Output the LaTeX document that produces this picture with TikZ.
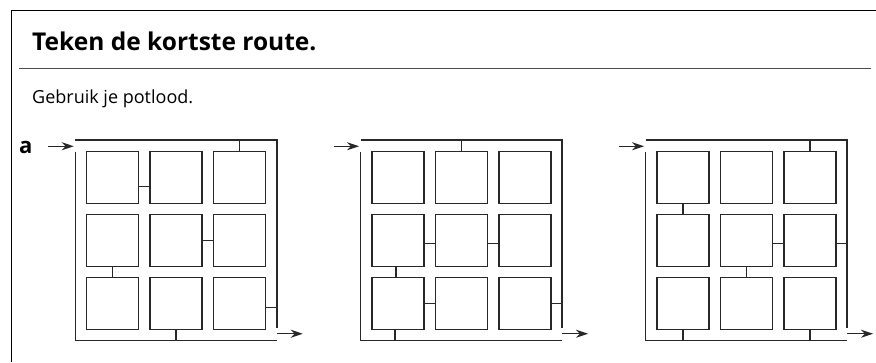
\documentclass[tikz,border=0pt]{standalone}
\usepackage{fontspec}
\setmainfont{Open Sans}
\usetikzlibrary{arrows.meta,calc}
\definecolor{inkgray}{RGB}{40,40,40}

\begin{document}
\begin{tikzpicture}[x=1pt, y=1pt,
    cell/.style={draw=inkgray, line width=1.5pt, minimum size=52pt, inner sep=0pt},
    wall/.style={draw=inkgray, line width=1.5pt},
    link/.style={draw=inkgray, line width=1.5pt},
    arr/.style={draw=inkgray, line width=1.4pt, -{Stealth[length=12pt, width=8pt]}}]
    \useasboundingbox (0,0) rectangle (876,-362);

    % Frame and header
    \draw[line width=1.2pt] (11.5,-362) -- (11.5,-10.5) -- (876,-10.5);
    \node[anchor=base west, inner sep=0pt, font=\fontsize{24.5}{29}\selectfont\bfseries] (title) at (32,-50) {Teken de kortste route.};
    \draw[black!70, line width=1.8pt] (19,-68.5) -- (871,-68.5);
    \node[anchor=base west, inner sep=0pt, font=\fontsize{18}{22}\selectfont] (hint) at (32,-103) {Gebruik je potlood.};
    \node[anchor=base west, inner sep=0pt, font=\fontsize{22}{26}\selectfont\bfseries] (a) at (19,-153) {a};

    % Squares of the three mazes
    \foreach \p/\x in {1/112.5, 2/397.8, 3/682.8}
      \foreach \r in {1,2,3}
        \foreach \c in {1,2,3}
          \node[cell] (p\p-\r\c) at ({\x+63.5*(\c-1)}, {-177.5-63*(\r-1)}) {};

    % Outer walls, entries and exits
    \foreach \p in {1,2,3} {
      \coordinate (p\p-tl) at ($(p\p-11.north west)+(-10.5,11)$);
      \coordinate (p\p-tr) at ($(p\p-13.north east)+(10.5,11)$);
      \coordinate (p\p-bl) at ($(p\p-31.south west)+(-10.5,-10)$);
      \coordinate (p\p-br) at ($(p\p-33.south east)+(10.5,-10)$);
      \coordinate (p\p-in) at ($(p\p-tl)+(-27,-6.5)$);
      \coordinate (p\p-out) at ($(p\p-br)+(26,6.5)$);
      \draw[wall] (p\p-tl) -- (p\p-tr) -- ([yshift=12pt]p\p-br);
      \draw[wall] ([yshift=-12.5pt]p\p-tl) -- (p\p-bl) -- (p\p-br);
      \draw[arr] (p\p-in) -- ([shift={(-1.5,-6.5)}]p\p-tl);
      \draw[arr] ([yshift=6.5pt]p\p-br) -- (p\p-out);
    }

    % Openings, maze 1
    \draw[link] (p1-13.north) -- (p1-13.north |- p1-tl);
    \draw[link] ([yshift=-9pt]p1-11.east) -- ([yshift=-9pt]p1-12.west);
    \draw[link] (p1-22.east) -- (p1-23.west);
    \draw[link] (p1-21.south) -- (p1-31.north);
    \draw[link] ([yshift=-4pt]p1-33.east) -- ([yshift=-4pt]p1-33.east -| p1-br);
    \draw[link] (p1-32.south) -- (p1-32.south |- p1-br);

    % Openings, maze 2
    \draw[link] (p2-12.north) -- (p2-12.north |- p2-tl);
    \draw[link] ([yshift=-3pt]p2-21.east) -- ([yshift=-3pt]p2-22.west);
    \draw[link] ([yshift=-3pt]p2-22.east) -- ([yshift=-3pt]p2-23.west);
    \draw[link] ([xshift=-2pt]p2-21.south) -- ([xshift=-2pt]p2-31.north);
    \draw[link] (p2-31.east) -- (p2-32.west);
    \draw[link] (p2-33.east) -- (p2-33.east -| p2-br);
    \draw[link] ([xshift=-3pt]p2-31.south) -- ([xshift=-3pt]p2-31.south |- p2-br);

    % Openings, maze 3
    \draw[link] (p3-13.north) -- (p3-13.north |- p3-tl);
    \draw[link] (p3-11.south) -- (p3-21.north);
    \draw[link] ([yshift=-3pt]p3-22.east) -- ([yshift=-3pt]p3-23.west);
    \draw[link] ([yshift=-3pt]p3-23.east) -- ([yshift=-3pt]p3-23.east -| p3-br);
    \draw[link] (p3-22.south) -- (p3-32.north);
    \draw[link] (p3-31.south) -- (p3-31.south |- p3-br);
    \draw[link] (p3-33.south) -- (p3-33.south |- p3-br);
\end{tikzpicture}
\end{document}
